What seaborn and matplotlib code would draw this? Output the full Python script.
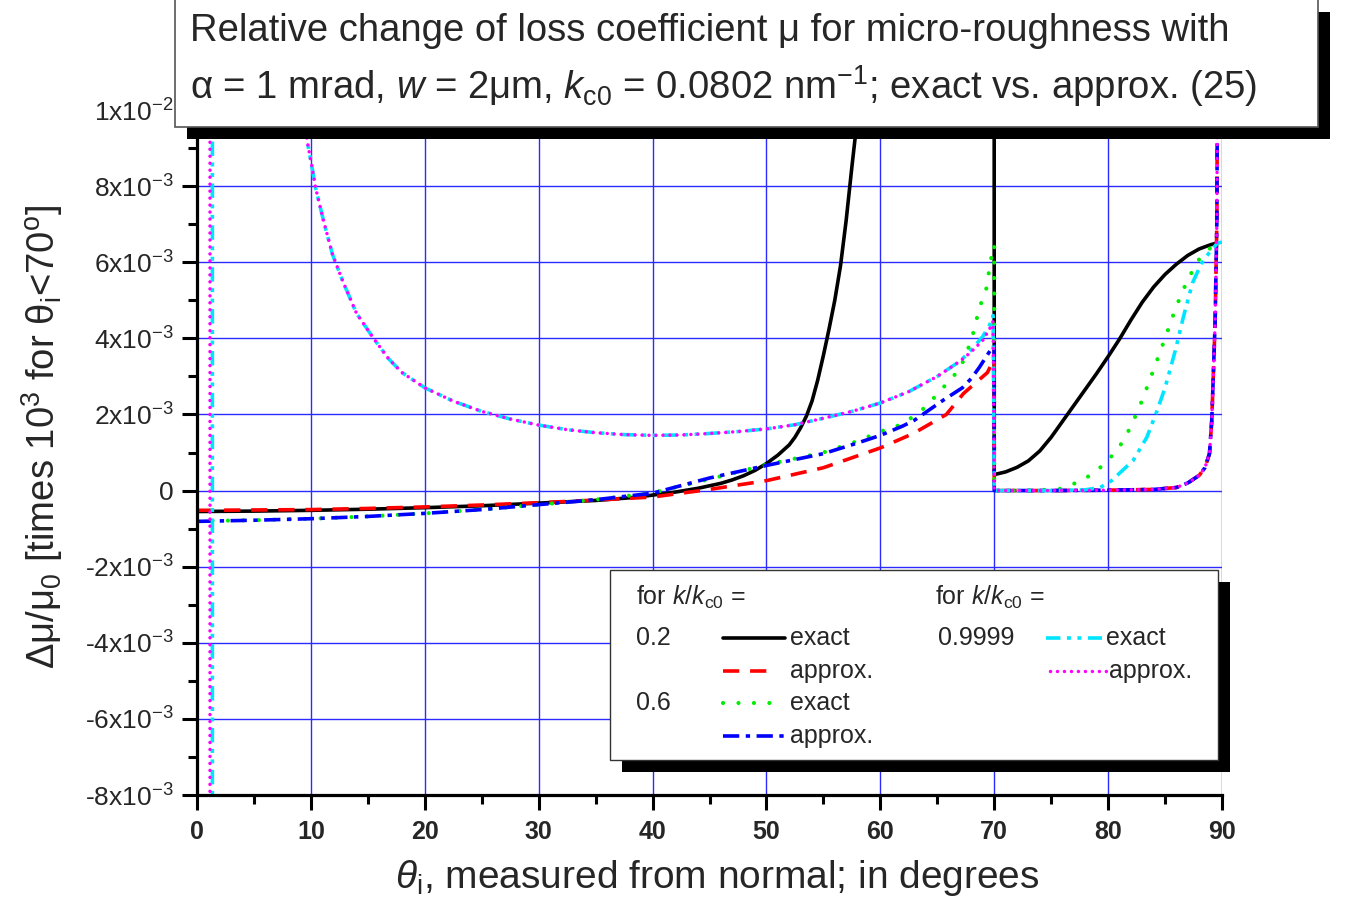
import matplotlib
matplotlib.use("Agg")
import matplotlib.pyplot as plt
from matplotlib.patches import Rectangle
from matplotlib.lines import Line2D
import numpy as np
import seaborn as sns

# theta_i in degrees, values of delta mu / mu0 in units of 1e-3
# k/kc0 = 0.2, exact
x_02_exact = [0, 5, 10, 15, 20, 25, 30, 35, 38, 40, 42, 44, 46, 47, 48, 49, 50, 51, 52, 52.5,
              53, 53.5, 54, 54.5, 55, 55.5, 56, 56.5, 57, 57.5, 57.8, 58.2, 69.99, 70, 71, 72,
              73, 74, 75, 76, 77, 78, 79, 80, 81, 82, 83, 84, 85, 86, 87, 88, 89, 89.5]
y_02_exact = [-0.55, -0.54, -0.52, -0.49, -0.45, -0.40, -0.33, -0.26, -0.19, -0.12, -0.04, 0.06,
              0.19, 0.28, 0.39, 0.53, 0.71, 0.93, 1.2, 1.4, 1.65, 1.95, 2.35, 2.9, 3.55, 4.25,
              5.0, 5.9, 7.1, 8.5, 9.3, 10.8, 40, 0.42, 0.49, 0.61, 0.78, 1.04, 1.4, 1.82, 2.24,
              2.66, 3.08, 3.52, 3.98, 4.48, 4.95, 5.35, 5.68, 5.95, 6.18, 6.35, 6.46, 6.5]

# k/kc0 = 0.2, approx.
x_02_approx = [0, 5, 10, 15, 20, 25, 30, 35, 40, 45, 50, 55, 60, 62.9, 65.8, 67.3, 69.4, 69.9,
               70, 70, 72, 75, 80, 84, 86, 87, 88, 88.5, 88.9, 89.1, 89.2, 89.4, 89.55, 89.65]
y_02_approx = [-0.52, -0.51, -0.5, -0.47, -0.43, -0.38, -0.32, -0.25, -0.17, 0.03, 0.26, 0.6,
               1.12, 1.5, 2.0, 2.55, 3.1, 3.4, 3.45, 0.0, 0.0, 0.0, 0.01, 0.03, 0.08, 0.2,
               0.4, 0.6, 0.97, 1.84, 2.7, 4.47, 7.1, 15]

# k/kc0 = 0.6, exact
x_06_exact = [0, 5, 10, 15, 20, 25, 30, 35, 40, 45, 50, 55, 58, 60, 62, 64, 65.5, 67, 68, 68.7,
              69.3, 69.6, 69.9, 70, 70, 72, 74, 76, 77, 78, 79, 80, 81, 82, 83, 84, 85, 86,
              87, 88, 89, 89.5]
y_06_exact = [-0.8, -0.78, -0.74, -0.68, -0.6, -0.5, -0.37, -0.24, -0.06, 0.3, 0.68, 1.0, 1.3,
              1.55, 1.75, 2.2, 2.7, 3.2, 3.95, 4.8, 5.3, 5.87, 6.4, 6.45, 0.0, 0.0, 0.01,
              0.05, 0.18, 0.32, 0.52, 0.8, 1.15, 1.68, 2.38, 3.18, 4.0, 4.85, 5.55, 6.08,
              6.38, 6.47]

# k/kc0 = 0.6, approx.
x_06_approx = [0, 5, 10, 15, 20, 25, 30, 35, 40, 45, 50, 55, 58, 60, 62, 63, 65.5, 67.2, 68,
               68.7, 69.8, 70, 70, 72, 75, 80, 84, 86, 87, 88, 88.5, 88.9, 89.1, 89.2, 89.4,
               89.55, 89.65]
y_06_approx = [-0.81, -0.78, -0.74, -0.68, -0.6, -0.5, -0.37, -0.24, -0.07, 0.33, 0.66, 0.97,
               1.25, 1.45, 1.7, 1.85, 2.37, 2.7, 2.95, 3.24, 3.75, 3.8, 0.0, 0.0, 0.0, 0.01,
               0.03, 0.08, 0.2, 0.4, 0.6, 0.97, 1.84, 2.7, 4.47, 7.1, 15]

# k/kc0 = 0.9999, exact
x_09999_exact = [1.35, 1.35, 9.2, 9.66, 10.1, 10.4, 11.1, 11.9, 12.8, 14.0, 15.5, 16.8, 18, 20,
                 22.5, 25, 27.5, 30, 32.5, 35, 37.5, 40, 42.5, 45, 47.5, 50, 52.5, 55, 57.5,
                 60, 62.5, 65, 67, 68, 69, 69.6, 69.9, 70, 72, 75, 78, 79.3, 80.3, 82.2, 83.4,
                 84.3, 85.0, 85.9, 86.6, 87.4, 88.2, 89.0, 89.6, 90]
y_09999_exact = [-12, 40, 10.5, 9.2, 8.5, 7.97, 7.1, 6.2, 5.5, 4.66, 4.0, 3.47, 3.1, 2.7, 2.35,
                 2.08, 1.88, 1.72, 1.6, 1.52, 1.47, 1.45, 1.46, 1.5, 1.55, 1.62, 1.73, 1.9,
                 2.08, 2.3, 2.6, 3.0, 3.4, 3.7, 4.05, 4.35, 4.6, 0.0, 0.0, 0.0, 0.02, 0.08,
                 0.26, 0.79, 1.4, 2.1, 2.7, 3.68, 4.55, 5.45, 5.97, 6.3, 6.5, 6.53]

# k/kc0 = 0.9999, approx.
x_09999_approx = [1.14, 1.14, 9.2, 9.66, 10.1, 10.4, 11.1, 11.9, 12.8, 14.0, 15.5, 16.8, 18, 20,
                  22.5, 25, 27.5, 30, 32.5, 35, 37.5, 40, 42.5, 45, 47.5, 50, 52.5, 55, 57.5,
                  60, 62.5, 65, 67, 68, 69, 69.6, 69.9, 70, 72, 75, 80, 84, 86, 87, 88, 88.5,
                  88.9, 89.1, 89.2, 89.4, 89.55, 89.65]
y_09999_approx = [-12, 40, 10.5, 9.2, 8.5, 7.97, 7.1, 6.2, 5.5, 4.66, 4.0, 3.47, 3.1, 2.7, 2.35,
                  2.08, 1.88, 1.72, 1.6, 1.52, 1.47, 1.45, 1.46, 1.5, 1.55, 1.62, 1.73, 1.9,
                  2.08, 2.3, 2.6, 3.0, 3.4, 3.65, 3.95, 4.25, 4.45, 0.0, 0.0, 0.0, 0.01, 0.03,
                  0.08, 0.2, 0.4, 0.6, 0.97, 1.84, 2.7, 4.47, 7.1, 15]

x_ticks = [0, 10, 20, 30, 40, 50, 60, 70, 80, 90]
y_ticks = [-8e-3, -6e-3, -4e-3, -2e-3, 0, 2e-3, 4e-3, 6e-3, 8e-3, 1e-2]
y_tick_labels = ["-8x10$^{-3}$", "-6x10$^{-3}$", "-4x10$^{-3}$", "-2x10$^{-3}$", "0",
                 "2x10$^{-3}$", "4x10$^{-3}$", "6x10$^{-3}$", "8x10$^{-3}$", "1x10$^{-2}$"]

sns.set_style("white")
plt.rcParams["font.family"] = ["Liberation Sans", "DejaVu Sans"]
plt.rcParams["mathtext.fontset"] = "custom"
plt.rcParams["mathtext.rm"] = "Liberation Sans"
plt.rcParams["mathtext.it"] = "Liberation Sans:italic"
plt.rcParams["mathtext.bf"] = "Liberation Sans:bold"

fig = plt.figure(figsize=(13.47, 9.09), dpi=100)
ax = fig.add_axes([197 / 1347, 1 - 795 / 909, 1025 / 1347, 685 / 909])

styles = [
    (x_02_exact, y_02_exact, dict(color="black", linestyle="-", linewidth=2.6)),
    (x_02_approx, y_02_approx, dict(color="#ff0000", linestyle=(0, (4.5, 3)), linewidth=2.6)),
    (x_06_exact, y_06_exact, dict(color="#00ee00", linestyle=(0, (0.01, 3.7)), linewidth=3.0,
                                  dash_capstyle="round")),
    (x_06_approx, y_06_approx, dict(color="#0000ff", linestyle=(0, (4.5, 1.8, 1.2, 1.8)), linewidth=2.6)),
    (x_09999_exact, y_09999_exact, dict(color="#00e5ff", linestyle=(0, (4, 1.8, 1.1, 1.8, 1.1, 1.8)),
                                        linewidth=2.6)),
    (x_09999_approx, y_09999_approx, dict(color="#ff00ff", linestyle=(0, (0.01, 2.0)), linewidth=2.5,
                                          dash_capstyle="round")),
]
for xs, ys, st in styles:
    sns.lineplot(x=xs, y=np.array(ys) * 1e-3, ax=ax, sort=False, estimator=None, **st)

ax.set_xlim(0, 90)
ax.set_ylim(-8e-3, 1e-2)
ax.set_xticks(x_ticks)
ax.set_xticks(np.arange(5, 90, 10), minor=True)
ax.set_yticks(y_ticks)
ax.set_yticklabels(y_tick_labels)
ax.set_yticks(np.arange(-7e-3, 1e-2, 2e-3), minor=True)
ax.grid(True, which="major", color="#2b2bff", linewidth=1.0)
for lab in ax.get_xticklabels():
    lab.set_fontweight("bold")
ax.tick_params(axis="x", which="major", labelsize=18, pad=7)
ax.tick_params(axis="y", which="major", labelsize=19, pad=6)
ax.tick_params(which="major", direction="out", length=11, width=2.2, color="black", bottom=True, left=True)
ax.tick_params(which="minor", direction="out", length=6.5, width=2.2, color="black", bottom=True, left=True)
for s in ["top", "right"]:
    ax.spines[s].set_visible(False)
for s in ["left", "bottom"]:
    ax.spines[s].set_linewidth(2.3)
    ax.spines[s].set_color("black")

fig.text(717 / 1347, 1 - 878 / 909, r"$\mathit{θ}_{\mathrm{i}}$, measured from normal; in degrees",
         fontsize=28, ha="center", va="center")
fig.text(42 / 1347, 1 - 437 / 909,
         r"Δμ/μ$_0$ [times 10$^3$ for θ$_\mathrm{i}$<70$^\mathrm{o}$]",
         fontsize=27.5, ha="center", va="center", rotation=90)

# title box with shadow
fig.add_artist(Rectangle((187 / 1347, 1 - 139 / 909), 1143 / 1347, 127 / 909,
                         transform=fig.transFigure, facecolor="black", edgecolor="none", zorder=5))
fig.add_artist(Rectangle((175 / 1347, 1 - 127 / 909), 1143 / 1347, 0.2,
                         transform=fig.transFigure, facecolor="white", edgecolor="#555555",
                         linewidth=1.2, zorder=6))
fig.text(190 / 1347, 1 - 31 / 909,
         "Relative change of loss coefficient μ for micro-roughness with",
         fontsize=27.5, ha="left", va="center", zorder=7)
fig.text(190 / 1347, 1 - 86 / 909,
         r"α = 1 mrad, $\mathit{w}$ = 2μm, $\mathit{k}_{\mathrm{c0}}$ = 0.0802 nm$^{-1}$; exact vs. approx. (25)",
         fontsize=27.5, ha="left", va="center", zorder=7)

# legend box drawn by hand
def axx(px):
    return (px - 197) / 1025


def axy(py):
    return (795 - py) / 685


ax.add_patch(Rectangle((axx(622), axy(772)), axx(1230) - axx(622), axy(582) - axy(772),
                       transform=ax.transAxes, facecolor="black", edgecolor="none",
                       clip_on=False, zorder=20))
ax.add_patch(Rectangle((axx(610), axy(760)), axx(1218) - axx(610), axy(570) - axy(760),
                       transform=ax.transAxes, facecolor="white", edgecolor="#333333",
                       linewidth=1.0, clip_on=False, zorder=21))
lfs = 18
head = r"for $\mathit{k}/\mathit{k}_{\mathrm{c0}}$ ="
ax.text(axx(636), axy(597), head, transform=ax.transAxes, fontsize=lfs, va="center", zorder=22)
ax.text(axx(935), axy(597), head, transform=ax.transAxes, fontsize=lfs, va="center", zorder=22)
ax.text(axx(636), axy(638), "0.2", transform=ax.transAxes, fontsize=lfs, va="center", zorder=22)
ax.text(axx(636), axy(703), "0.6", transform=ax.transAxes, fontsize=lfs, va="center", zorder=22)
ax.text(axx(938), axy(638), "0.9999", transform=ax.transAxes, fontsize=lfs, va="center", zorder=22)
samples = [(723, 785, 638, 790, "exact", 0), (723, 775, 671, 790, "approx.", 1),
           (723, 770, 703, 790, "exact", 2), (723, 785, 736, 790, "approx.", 3),
           (1046, 1102, 638, 1106, "exact", 4), (1050, 1106, 671, 1109, "approx.", 5)]
for x0, x1, py, tx, label, i in samples:
    st = dict(styles[i][2])
    ax.add_line(Line2D([axx(x0), axx(x1)], [axy(py), axy(py)], transform=ax.transAxes,
                       clip_on=False, zorder=22, **st))
    ax.text(axx(tx), axy(py), label, transform=ax.transAxes, fontsize=lfs, va="center", zorder=22)

fig.savefig("out.png", dpi=100)
